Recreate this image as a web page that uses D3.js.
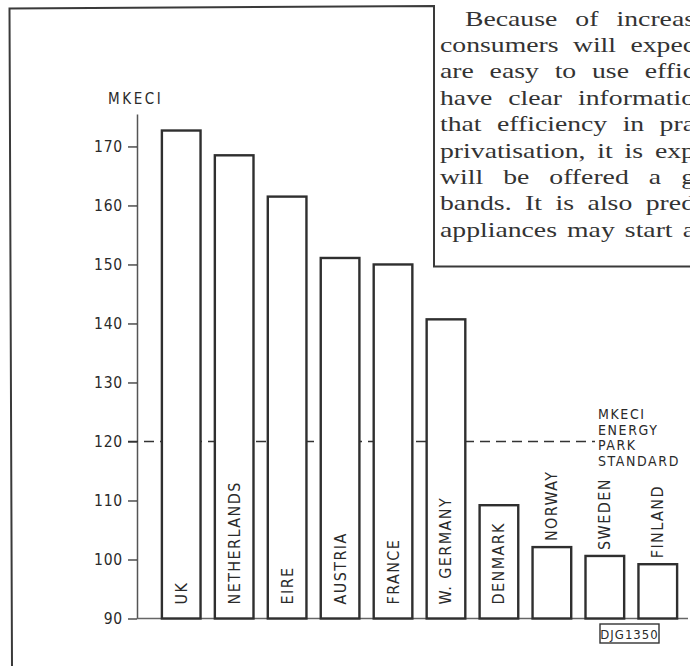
<!DOCTYPE html>
<html>
<head>
<meta charset="utf-8">
<script src="https://cdnjs.cloudflare.com/ajax/libs/d3/7.8.5/d3.min.js"></script>
<style>
  html, body { margin: 0; padding: 0; background: #fff; }
  .tech { font-family: "Liberation Sans Narrow", "DejaVu Sans Condensed", sans-serif; fill: #2a2a2a; }
  .prose { font-family: "Liberation Serif", "DejaVu Serif", serif; fill: #333; }
</style>
</head>
<body>
<div id="chart"></div>
<script>
// values
var countries = ["UK", "NETHERLANDS", "EIRE", "AUSTRIA", "FRANCE", "W. GERMANY", "DENMARK", "NORWAY", "SWEDEN", "FINLAND"];
var mkeci = [172.7, 168.5, 161.5, 151.1, 150.0, 140.7, 109.2, 102.1, 100.6, 99.2];
var yTicks = [90, 100, 110, 120, 130, 140, 150, 160, 170];
var yMin = 90, yMax = 175.5;
var standard = 120;
var standardLabel = ["MKECI", "ENERGY", "PARK", "STANDARD"];
var axisTitle = "MKECI";
var figCode = "DJG1350";
var proseLines = [
    "Because of increas",
    "consumers will expec",
    "are easy to use effic",
    "have clear informatio",
    "that efficiency in pra",
    "privatisation, it is exp",
    "will be offered a g",
    "bands. It is also pred",
    "appliances may start a"
];

var W = 690, H = 666;
var svg = d3.select("#chart").append("svg").attr("width", W).attr("height", H);

var x = d3.scaleBand().domain(countries).range([137, 702]).paddingInner(0.27).paddingOuter(0.47);
var y = d3.scaleLinear().domain([yMin, yMax]).range([618.5, 114]);

// page frame (chart box cut by the text column)
svg.append("path")
    .attr("d", "M12,666 L9.5,8.5 L434,6 L434,266.5 L690,266.5")
    .attr("fill", "none").attr("stroke", "#3a3a3a").attr("stroke-width", 2);

// prose column, justified word by word (the scan's type is wide, so stretch it)
var sx = 1.32;
var prose = svg.append("g").attr("class", "prose").attr("font-size", 21);
proseLines.forEach(function(line, i) {
    var x0 = i === 0 ? 465 : 440, xEnd = 695, base = 25.5 + i * 26.4;
    var words = line.split(" ");
    var t = prose.append("text").attr("transform", "translate(" + x0 + "," + base + ") scale(" + sx + ",1)");
    var spans = words.map(function(w) { return t.append("tspan").text(w); });
    var widths = spans.map(function(s) { return s.node().getComputedTextLength(); });
    var gap = ((xEnd - x0) / sx - d3.sum(widths)) / (words.length - 1);
    var cx = 0;
    spans.forEach(function(s, k) { s.attr("x", cx); cx += widths[k] + gap; });
});

// y axis
var gy = svg.append("g").attr("class", "tech")
    .attr("transform", "translate(137,0)")
    .call(d3.axisLeft(y).tickValues(yTicks).tickSize(9).tickPadding(5).tickSizeOuter(0));
gy.select(".domain").attr("stroke", "#555").attr("stroke-width", 1.5);
gy.selectAll(".tick line").attr("stroke", "#333").attr("stroke-width", 1.3);
gy.selectAll(".tick text").attr("font-size", 15.5).attr("letter-spacing", 0.8)
    .attr("font-family", "Liberation Sans Narrow, DejaVu Sans Condensed, sans-serif").attr("fill", "#2a2a2a");

svg.append("text").attr("class", "tech").attr("x", 108).attr("y", 104)
    .attr("font-size", 15).attr("letter-spacing", 2.6).text(axisTitle);

// baseline
svg.append("line").attr("x1", 137).attr("x2", 688).attr("y1", y(yMin)).attr("y2", y(yMin))
    .attr("stroke", "#666").attr("stroke-width", 1.3);

// standard line
svg.append("line").attr("x1", 128).attr("x2", 595).attr("y1", y(standard)).attr("y2", y(standard))
    .attr("stroke", "#333").attr("stroke-width", 1.3).attr("stroke-dasharray", "10,6");

svg.append("g").attr("class", "tech").selectAll("text")
    .data(standardLabel).enter().append("text")
    .attr("x", 598).attr("y", function(d, i) { return y(standard) - 22 + i * 15.5; })
    .attr("font-size", 14).attr("letter-spacing", 1.6).text(function(d) { return d; });

// bars
var bars = svg.append("g");
bars.selectAll("rect").data(countries).enter().append("rect")
    .attr("x", function(d) { return x(d); })
    .attr("width", x.bandwidth())
    .attr("y", function(d, i) { return y(mkeci[i]); })
    .attr("height", function(d, i) { return y(yMin) - y(mkeci[i]); })
    .attr("fill", "#fff").attr("stroke", "#2f2f2f").attr("stroke-width", 2.4);

// country labels: inside the bar when it fits, else just above it
var lab = svg.append("g").attr("class", "tech");
countries.forEach(function(c, i) {
    var cx = x(c) + x.bandwidth() / 2;
    var t = lab.append("text").attr("font-size", 16).attr("letter-spacing", 1.4)
        .attr("dominant-baseline", "central").text(c);
    var len = t.node().getComputedTextLength();
    var barH = y(yMin) - y(mkeci[i]);
    var yStart = (len + 20 < barH) ? y(yMin) - 14 : y(mkeci[i]) - 6;
    t.attr("transform", "translate(" + cx + "," + yStart + ") rotate(-90)");
});

// drawing code box
var code = svg.append("g").attr("transform", "translate(600,624)");
code.append("rect").attr("width", 59).attr("height", 19)
    .attr("fill", "#fff").attr("stroke", "#333").attr("stroke-width", 1.4);
code.append("text").attr("class", "tech").attr("x", 29.5).attr("y", 14.5)
    .attr("text-anchor", "middle").attr("font-size", 13).attr("letter-spacing", 1)
    .text(figCode);
</script>
</body>
</html>
